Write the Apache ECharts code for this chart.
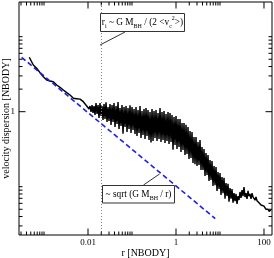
<!DOCTYPE html>
<html><head><meta charset="utf-8">
<script src="https://cdn.jsdelivr.net/npm/echarts@6/dist/echarts.min.js"></script>
<style>html,body{margin:0;padding:0;background:#fff}#c{width:274px;height:258px}</style>
</head><body><div id="c"></div>
<script>
// ---- data ----
const radius = [
  4.63e-4, 5.71e-4, 6.82e-4, 8.11e-4, 9.64e-4, 1.151e-3, 1.369e-3, 1.627e-3, 1.943e-3, 2.310e-3,
  2.746e-3, 3.281e-3, 3.899e-3, 4.634e-3, 5.535e-3, 6.58e-3, 7.82e-3, 9.34e-3,
  0.01, 0.01054, 0.0111, 0.0117, 0.01233, 0.01299, 0.01369, 0.01442, 0.0152, 0.01602,
  0.01688, 0.01778, 0.01874, 0.01975, 0.02081, 0.02193, 0.0231, 0.02434, 0.02565, 0.02703,
  0.02848, 0.03002, 0.03162, 0.03332, 0.03511, 0.037, 0.03899, 0.04108, 0.04329, 0.04562,
  0.04807, 0.05065, 0.05337, 0.05624, 0.05926, 0.06245, 0.0658, 0.06934, 0.07306, 0.07699,
  0.08113, 0.08549, 0.09008, 0.09492,
  0.1, 0.1054, 0.111, 0.117, 0.1233, 0.1299, 0.1369, 0.1442, 0.152, 0.1602,
  0.1688, 0.1778, 0.1874, 0.1975, 0.2081, 0.2193, 0.231, 0.2434, 0.2565, 0.2703,
  0.2848, 0.3002, 0.3162, 0.3332, 0.3511, 0.37, 0.3899, 0.4108, 0.4329, 0.4562,
  0.4807, 0.5065, 0.5337, 0.5624, 0.5926, 0.6245, 0.658, 0.6934, 0.7306, 0.7699,
  0.8113, 0.8549, 0.9008, 0.9492,
  1, 1.054, 1.11, 1.17, 1.233, 1.299, 1.369, 1.442, 1.52, 1.602,
  1.688, 1.778, 1.874, 1.975, 2.081, 2.193, 2.31, 2.434, 2.565, 2.703,
  2.848, 3.002, 3.162, 3.332, 3.511, 3.7, 3.899, 4.108, 4.329, 4.562,
  4.807, 5.065, 5.337, 5.624, 5.926, 6.245, 6.58, 6.934, 7.306, 7.699,
  8.113, 8.549, 9.008, 9.492,
  10, 10.54, 11.1, 11.7, 12.33, 12.99, 13.69, 14.42, 15.2, 16.02,
  16.88, 17.78, 18.74, 19.75, 20.81, 21.93, 23.1, 24.34, 25.65,
  27.03, 28.48, 30.02, 31.62, 33.32, 35.11, 37.0, 38.99, 41.08, 43.29,
  45.62, 48.07, 50.65, 53.37, 56.24, 59.26, 62.45, 65.8, 69.34, 73.06,
  76.99, 81.13, 85.49, 90.08, 94.92, 100, 105.4, 111, 117, 123.3,
  129.9, 136.9, 144.2
];
const sigma = [
  5.313, 4.195, 3.791, 3.311, 2.929, 2.647, 2.567, 2.512, 2.270, 2.115,
  1.947, 1.792, 1.670, 1.509, 1.49, 1.47, 1.359, 1.191,
  1.228, 1.086, 1.191, 0.991, 1.228, 0.961, 1.191, 0.904, 1.306, 0.932,
  1.228, 0.824, 1.306, 0.876, 1.191, 0.775, 1.267, 0.799, 1.33, 0.729,
  1.155, 0.752, 1.267, 0.665, 1.228, 0.729, 1.306, 0.625, 1.191, 0.685,
  1.35, 0.588, 1.120, 0.645, 1.228, 0.51, 1.155, 0.625, 1.191, 0.536,
  1.120, 0.588, 1.22, 0.520,
  1.155, 0.570, 1.086, 0.504, 1.155, 0.474, 1.054, 0.520, 1.19, 0.446,
  1.022, 0.489, 1.086, 0.432, 1.120, 0.474, 1.054, 0.419, 0.991, 0.39,
  1.086, 0.407, 1.022, 0.446, 1.054, 0.407, 0.961, 0.432, 1.12, 0.394,
  0.991, 0.419, 1.022, 0.383, 0.932, 0.407, 0.991, 0.371, 0.961, 0.394,
  0.904, 0.31, 0.850, 0.360,
  0.876, 0.318, 0.799, 0.338, 0.799, 0.290, 0.707, 0.308, 0.707, 0.265,
  0.67, 0.273, 0.625, 0.234, 0.553, 0.241, 0.536, 0.207, 0.460, 0.20,
  0.460, 0.189, 0.394, 0.195, 0.42, 0.167, 0.338, 0.167, 0.318, 0.139,
  0.281, 0.143, 0.265, 0.119, 0.227, 0.123, 0.220, 0.102, 0.189, 0.105,
  0.183, 0.088, 0.157, 0.093,
  0.152, 0.0775, 0.135, 0.082, 0.131, 0.069, 0.112, 0.075, 0.109, 0.063,
  0.096, 0.069, 0.093, 0.061, 0.082, 0.064, 0.080, 0.059, 0.075,
  0.0665, 0.085, 0.071, 0.090, 0.075, 0.099, 0.073, 0.082, 0.069, 0.088,
  0.075, 0.080, 0.069, 0.082, 0.073, 0.0775, 0.066, 0.073, 0.065, 0.069,
  0.061, 0.063, 0.057, 0.059, 0.054, 0.055, 0.052, 0.050, 0.049, 0.050,
  0.047, 0.046, 0.049
];
// Keplerian ~ sqrt(G M_BH / r) reference line (end points)
const keplerR = [3.1e-4, 7.8];
const keplerSigma = [5.3, 0.0375];
// radius of influence (dotted vertical line)
const rInfluence = 0.0158;

// axis ranges and ticks
const xRange = [2.7e-4, 152];
const yRange = [0.0227, 29];
const xMajorTicks = [0.01, 1, 100];
const xTickLabels = ['0.01', '1', '100'];
const xMinorTicks = [0.0003, 0.0004, 0.0005, 0.0006, 0.0007, 0.0008, 0.0009, 0.001,
  0.02, 0.03, 0.04, 0.05, 0.06, 0.07, 0.08, 0.09, 0.1,
  2, 3, 4, 5, 6, 7, 8, 9, 10];
const yMajorTicks = [1];
const yTickLabels = ['1'];
const yMinorTicks = [0.03, 0.04, 0.05, 0.06, 0.07, 0.08, 0.09, 0.1,
  2, 3, 4, 5, 6, 7, 8, 9, 10];

const xTitle = 'r [NBODY]';
const yTitle = 'velocity dispersion [NBODY]';

// ---- build ----
const FONT = '"Liberation Serif", "Times New Roman", serif';
const n = Math.min(radius.length, sigma.length);
const profile = [];
for (let i = 0; i < n; i++) profile.push([radius[i], sigma[i]]);
const kepler = keplerR.map((r, i) => [r, keplerSigma[i]]);

const MAJ = 6.5, MIN = 3.5;
function renderAxes(params, api) {
  const cs = params.coordSys;
  const L = cs.x, T = cs.y, R = cs.x + cs.width, B = cs.y + cs.height;
  const ch = [];
  const seg = (x1, y1, x2, y2) => ch.push({type: 'line', shape: {x1, y1, x2, y2},
    style: {stroke: '#000', lineWidth: 1}});
  const txt = (x, y, t, al, va) => ch.push({type: 'text', x, y,
    style: {text: t, align: al, verticalAlign: va, textAlign: al, textVerticalAlign: va,
      fontSize: 9, fontFamily: FONT, fill: '#000'}});
  xMajorTicks.forEach((v, i) => {
    const p = api.coord([v, 1])[0];
    seg(p, B, p, B - MAJ); seg(p, T, p, T + MAJ);
    txt(p, B + 3, xTickLabels[i], 'center', 'top');
  });
  xMinorTicks.forEach(v => {
    const p = api.coord([v, 1])[0];
    seg(p, B, p, B - MIN); seg(p, T, p, T + MIN);
  });
  yMajorTicks.forEach((v, i) => {
    const p = api.coord([1, v])[1];
    seg(L, p, L + MAJ, p); seg(R, p, R - MAJ, p);
    txt(L - 4, p, yTickLabels[i], 'right', 'middle');
  });
  yMinorTicks.forEach(v => {
    const p = api.coord([1, v])[1];
    seg(L, p, L + MIN, p); seg(R, p, R - MIN, p);
  });
  return {type: 'group', children: ch};
}

const chart = echarts.init(document.getElementById('c'), null, {renderer: 'canvas'});
chart.setOption({
  animation: false,
  backgroundColor: '#fff',
  grid: {left: 19, right: 2, top: 2, bottom: 23, containLabel: false, outerBoundsMode: 'none',
    show: true, borderColor: '#000', borderWidth: 1, backgroundColor: 'transparent'},
  xAxis: {type: 'log', min: xRange[0], max: xRange[1],
    axisLine: {show: false}, axisTick: {show: false}, axisLabel: {show: false}, splitLine: {show: false},
    name: xTitle, nameLocation: 'middle', nameGap: 13.5,
    nameTextStyle: {fontSize: 10, fontFamily: FONT, color: '#000'}},
  yAxis: {type: 'log', min: yRange[0], max: yRange[1],
    axisLine: {show: false}, axisTick: {show: false}, axisLabel: {show: false}, splitLine: {show: false},
    name: yTitle, nameLocation: 'middle', nameGap: 8,
    nameTextStyle: {fontSize: 10, fontFamily: FONT, color: '#000'}},
  series: [
    {type: 'line', data: profile, showSymbol: false, symbol: 'none',
      lineStyle: {color: '#000', width: 1.45, join: 'bevel'}, z: 2,
      markLine: {silent: true, symbol: ['none', 'none'], label: {show: false},
        lineStyle: {type: [1, 2], color: '#888', width: 1},
        data: [{xAxis: rInfluence}]}},
    {type: 'line', data: kepler, showSymbol: false, symbol: 'none',
      lineStyle: {color: '#1f1fe8', width: 1.6, type: [5, 3]}, z: 3},
    {type: 'custom', data: [[1, 1]], renderItem: renderAxes, silent: true, clip: false, z: 5}
  ],
  graphic: [
    {type: 'rect', shape: {x: 100.5, y: 13.5, width: 84, height: 18}, z: 100,
      style: {fill: '#fff', stroke: '#333', lineWidth: 1}},
    {type: 'text', x: 142.5, y: 22.5, z: 101,
      style: {text: '{n|r}{sub|i}{n| ~ G M}{sub|BH}{n| / (2 <v}{sub|c}{sup|2}{n|>)}',
        align: 'center', verticalAlign: 'middle', fill: '#000', fontFamily: FONT, fontSize: 9,
        rich: {
          n: {fontSize: 9.3, fontFamily: FONT, lineHeight: 14, verticalAlign: 'middle'},
          sub: {fontSize: 6, fontFamily: FONT, lineHeight: 7, verticalAlign: 'bottom'},
          sup: {fontSize: 6, fontFamily: FONT, lineHeight: 7, verticalAlign: 'top'}
        }}},
    {type: 'line', shape: {x1: 125, y1: 32, x2: 100, y2: 45}, z: 100,
      style: {stroke: '#333', lineWidth: 1}},
    {type: 'rect', shape: {x: 102.5, y: 185.5, width: 72, height: 17.5}, z: 100,
      style: {fill: '#fff', stroke: '#333', lineWidth: 1}},
    {type: 'text', x: 138.5, y: 194.2, z: 101,
      style: {text: '{n|~ sqrt (G M}{sub|BH}{n| / r)}',
        align: 'center', verticalAlign: 'middle', fill: '#000', fontFamily: FONT, fontSize: 9,
        rich: {
          n: {fontSize: 9.3, fontFamily: FONT, lineHeight: 14, verticalAlign: 'middle'},
          sub: {fontSize: 6, fontFamily: FONT, lineHeight: 7, verticalAlign: 'bottom'}
        }}},
    {type: 'line', shape: {x1: 143.5, y1: 185, x2: 159.5, y2: 174}, z: 100,
      style: {stroke: '#333', lineWidth: 1}}
  ]
});
</script></body></html>
